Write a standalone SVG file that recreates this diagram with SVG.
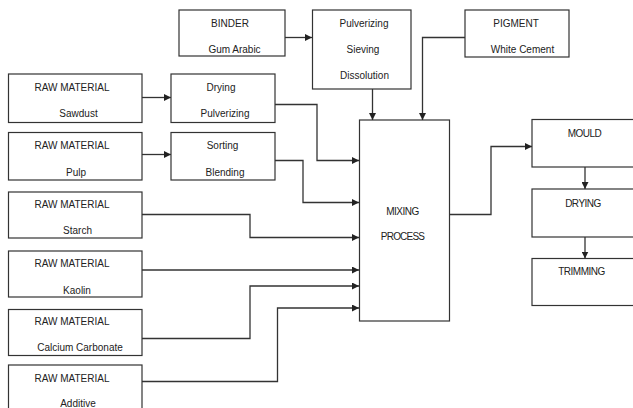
<svg xmlns="http://www.w3.org/2000/svg" width="633" height="408" viewBox="0 0 633 408">
<style>
  .box { fill: #ffffff; stroke: #333333; stroke-width: 1.2; }
  .t { font-family: "Liberation Sans", Arial, sans-serif; font-size: 10px; fill: #222222; text-anchor: middle; }
  .c { fill: none; stroke: #333333; stroke-width: 1.3; marker-end: url(#ah); }
</style>
<defs>
  <marker id="ah" viewBox="0 0 10 10" refX="10" refY="5" markerWidth="7" markerHeight="7" markerUnits="userSpaceOnUse" orient="auto">
    <path d="M0,0 L10,5 L0,10 z" fill="#222222"/>
  </marker>
</defs>
<rect width="633" height="408" fill="#ffffff"/>

<g id="connectors">
  <path class="c" d="M285,37.5 H312"/>
  <path class="c" d="M372.5,89 V120"/>
  <path class="c" d="M465,37.5 H422.5 V120"/>
  <path class="c" d="M142,97.5 H171"/>
  <path class="c" d="M142,154.5 H171"/>
  <path class="c" d="M275,104.5 H317 V160.5 H359"/>
  <path class="c" d="M275,160.5 H303 V202.5 H359"/>
  <path class="c" d="M142,214.5 H250 V237.5 H359"/>
  <path class="c" d="M142,270 H359"/>
  <path class="c" d="M142,338.5 H250 V286 H359"/>
  <path class="c" d="M142,381.5 H277.5 V308 H359"/>
  <path class="c" d="M449,214.5 H491 V146.5 H532"/>
  <path class="c" d="M585,167 V189"/>
  <path class="c" d="M585,237 V258.5"/>
</g>

<g id="binder">
  <rect class="box" x="179" y="10" width="106" height="46"/>
  <text class="t" x="230" y="27">BINDER</text>
  <text class="t" x="234.5" y="53">Gum Arabic</text>
</g>
<g id="pulverizing-sieving">
  <rect class="box" x="312.5" y="10" width="98.5" height="79"/>
  <text class="t" x="364" y="27">Pulverizing</text>
  <text class="t" x="363" y="53">Sieving</text>
  <text class="t" x="364.5" y="79">Dissolution</text>
</g>
<g id="pigment">
  <rect class="box" x="465" y="10" width="104" height="47"/>
  <text class="t" x="516" y="27">PIGMENT</text>
  <text class="t" x="522.5" y="53">White Cement</text>
</g>
<g id="raw-sawdust">
  <rect class="box" x="8.5" y="74" width="133.5" height="48.5"/>
  <text class="t" x="72" y="90.5">RAW MATERIAL</text>
  <text class="t" x="78.5" y="117">Sawdust</text>
</g>
<g id="drying-pulverizing">
  <rect class="box" x="171" y="74" width="104" height="48.5"/>
  <text class="t" x="221" y="90.5">Drying</text>
  <text class="t" x="225" y="117">Pulverizing</text>
</g>
<g id="raw-pulp">
  <rect class="box" x="8.5" y="132.5" width="133.5" height="47.5"/>
  <text class="t" x="72" y="149">RAW MATERIAL</text>
  <text class="t" x="76" y="176">Pulp</text>
</g>
<g id="sorting-blending">
  <rect class="box" x="171" y="132.5" width="104" height="47.5"/>
  <text class="t" x="222.5" y="149">Sorting</text>
  <text class="t" x="225" y="176">Blending</text>
</g>
<g id="raw-starch">
  <rect class="box" x="8.5" y="192" width="133.5" height="46"/>
  <text class="t" x="72" y="208">RAW MATERIAL</text>
  <text class="t" x="77.5" y="234">Starch</text>
</g>
<g id="raw-kaolin">
  <rect class="box" x="8.5" y="251" width="133.5" height="46"/>
  <text class="t" x="72" y="267">RAW MATERIAL</text>
  <text class="t" x="77" y="293.5">Kaolin</text>
</g>
<g id="raw-calcium">
  <rect class="box" x="8.5" y="309.5" width="133.5" height="46"/>
  <text class="t" x="72" y="325">RAW MATERIAL</text>
  <text class="t" x="80" y="350.5">Calcium Carbonate</text>
</g>
<g id="raw-additive">
  <rect class="box" x="8.5" y="365" width="133.5" height="50"/>
  <text class="t" x="72" y="382">RAW MATERIAL</text>
  <text class="t" x="78" y="406.5">Additive</text>
</g>
<g id="mixing">
  <rect class="box" x="359.5" y="120" width="90" height="201"/>
  <text class="t" x="402.5" y="214.5" letter-spacing="-0.5">MIXING</text>
  <text class="t" x="402.5" y="239.5" letter-spacing="-0.8">PROCESS</text>
</g>
<g id="mould">
  <rect class="box" x="532" y="119.5" width="110" height="47.5"/>
  <text class="t" x="584.5" y="136.5" letter-spacing="-0.5">MOULD</text>
</g>
<g id="drying">
  <rect class="box" x="532" y="189" width="110" height="48"/>
  <text class="t" x="583" y="206.5" letter-spacing="-0.5">DRYING</text>
</g>
<g id="trimming">
  <rect class="box" x="532" y="258.5" width="110" height="47"/>
  <text class="t" x="581.5" y="274.8" letter-spacing="-0.5">TRIMMING</text>
</g>
</svg>
